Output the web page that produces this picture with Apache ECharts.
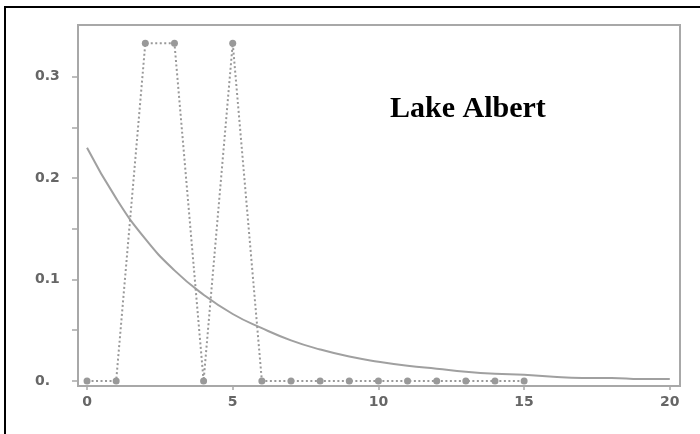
<!DOCTYPE html>
<html>
<head>
<meta charset="utf-8">
<script src="https://cdn.jsdelivr.net/npm/echarts@6/dist/echarts.min.js"></script>
<style>html,body{margin:0;padding:0;background:#fff}#c{width:700px;height:434px}</style>
</head>
<body>
<div id="c"></div>
<script>
// Observed proportions (dotted with markers), x = 0..15
const obsX = [0,1,2,3,4,5,6,7,8,9,10,11,12,13,14,15];
const obsY = [0,0,0.333,0.333,0,0.333,0,0,0,0,0,0,0,0,0,0];
// Fitted curve, read at integer x = 0..20
const fitX = [0,1,2,3,4,5,6,7,8,9,10,11,12,13,14,15,16,17,18,19,20];
const fitY = [0.230,0.180,0.140,0.109,0.085,0.066,0.052,0.040,0.031,0.024,0.019,0.015,0.012,0.009,0.007,0.006,0.004,0.003,0.003,0.002,0.002];
const xTicks = [0,5,10,15,20];
const yLabels = [0,0.1,0.2,0.3];
const yTicks = [0,0.05,0.1,0.15,0.2,0.25,0.3];
const titleText = 'Lake Albert';

const chart = echarts.init(document.getElementById('c'));
const axisGray = '#a8a8a8';
const labelGray = '#666';
chart.setOption({
  animation: false,
  backgroundColor: '#fff',
  grid: {left: 78, top: 25, right: 20, bottom: 48, show: true, borderColor: axisGray, borderWidth: 2, backgroundColor: 'transparent'},
  title: {
    text: titleText, left: 385, top: 89,
    textStyle: {fontFamily: 'Liberation Serif', fontWeight: 'bold', fontSize: 30, color: '#000'}
  },
  xAxis: {
    type: 'value', min: -0.31, max: 20.35,
    splitLine: {show: false},
    axisLine: {onZero: false, lineStyle: {color: axisGray, width: 2}},
    axisTick: {show: true, length: 4, customValues: xTicks, lineStyle: {color: axisGray, width: 1.5}},
    axisLabel: {customValues: xTicks, margin: 9, fontFamily: 'DejaVu Sans', fontWeight: 'bold', fontSize: 14, color: labelGray}
  },
  yAxis: {
    type: 'value', min: -0.005, max: 0.351,
    splitLine: {show: false},
    axisLine: {show: true, onZero: false, lineStyle: {color: axisGray, width: 2}},
    axisTick: {show: true, length: 6, customValues: yTicks, lineStyle: {color: axisGray, width: 1.5}},
    axisLabel: {customValues: yLabels, align: 'left', margin: 43, fontFamily: 'DejaVu Sans', fontWeight: 'bold', fontSize: 14, color: labelGray,
      formatter: v => v === 0 ? '0.' : String(Math.round(v*10)/10)}
  },
  series: [
    {
      type: 'line', data: fitX.map((x,i)=>[x, fitY[i]]), smooth: true, showSymbol: false,
      lineStyle: {color: '#a0a0a0', width: 2}, z: 2
    },
    {
      type: 'line', data: obsX.map((x,i)=>[x, obsY[i]]), symbol: 'circle', symbolSize: 7,
      itemStyle: {color: '#999'},
      lineStyle: {color: '#999', width: 2, type: [2, 2.5]}, z: 3
    }
  ],
  graphic: [
    {type: 'rect', shape: {x: 5, y: 7, width: 760, height: 500}, style: {fill: 'none', stroke: '#000', lineWidth: 2}, silent: true, z: 100}
  ]
});
</script>
</body>
</html>
